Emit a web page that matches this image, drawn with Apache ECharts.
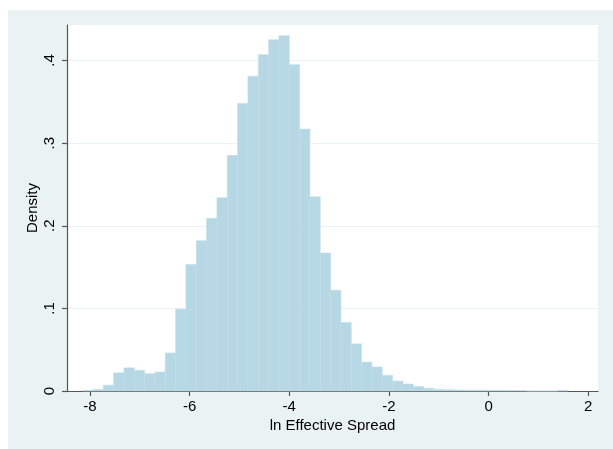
<!DOCTYPE html>
<html>
<head>
<meta charset="utf-8">
<script src="https://cdn.jsdelivr.net/npm/echarts@6/dist/echarts.min.js"></script>
<style>
  html, body { margin: 0; padding: 0; background: #fff; }
  #chart { position: absolute; left: 8px; top: 10px; width: 605px; height: 439px; }
</style>
</head>
<body>
<div id="chart"></div>
<script>
// histogram bins: 47 equal-width bins starting at the data minimum
const binStart = -8.146;
const binWidth = 0.2073;
const density = [
  0.001, 0.002, 0.007, 0.022, 0.028, 0.025, 0.021, 0.023, 0.046, 0.099,
  0.153, 0.182, 0.209, 0.234, 0.285, 0.348, 0.381, 0.407, 0.425, 0.430,
  0.395, 0.317, 0.235, 0.167, 0.122, 0.083, 0.057, 0.035, 0.029, 0.019,
  0.012, 0.0085, 0.0053, 0.0033, 0.002, 0.0015, 0.0012, 0.001, 0.001, 0.0008,
  0.0008, 0.0006, 0.0005, 0, 0, 0, 0.0008
];
const xTicks = [-8, -6, -4, -2, 0, 2];
const yTicks = [0, 0.1, 0.2, 0.3, 0.4];
const xTitle = 'ln Effective Spread';
const yTitle = 'Density';

const bins = density.map((d, i) => [binStart + i * binWidth, binStart + (i + 1) * binWidth, d]);

const chart = echarts.init(document.getElementById('chart'));

const font = 'Liberation Sans, Arial, Helvetica, sans-serif';

chart.setOption({
  backgroundColor: '#eaf2f3',
  animation: false,
  grid: {
    left: 59, right: 15, top: 15, bottom: 58,
    show: true, backgroundColor: '#ffffff', borderWidth: 0
  },
  xAxis: {
    type: 'value',
    min: -8.46, max: 2.195,
    name: xTitle,
    nameLocation: 'middle',
    nameGap: 27,
    nameMoveOverlap: false,
    nameTextStyle: { color: '#000', fontSize: 15, fontFamily: font },
    axisLine: { show: true, onZero: false, lineStyle: { color: '#555', width: 1.2 } },
    axisTick: { show: true, length: 5, customValues: xTicks, lineStyle: { color: '#555', width: 1.2 } },
    axisLabel: {
      customValues: xTicks, color: '#000', fontSize: 15, fontFamily: font, margin: 8,
      formatter: v => String(v)
    },
    splitLine: { show: false }
  },
  yAxis: {
    type: 'value',
    min: 0, max: 0.443,
    name: yTitle,
    nameLocation: 'middle',
    nameGap: 27,
    nameMoveOverlap: false,
    nameRotate: 90,
    nameTextStyle: { color: '#000', fontSize: 15, fontFamily: font },
    axisLine: { show: true, onZero: false, lineStyle: { color: '#555', width: 1.2 } },
    axisTick: { show: true, length: 5, customValues: yTicks, lineStyle: { color: '#555', width: 1.2 } },
    axisLabel: {
      customValues: yTicks, rotate: 90, color: '#000', fontSize: 15, fontFamily: font, margin: 10,
      formatter: v => v === 0 ? '0' : String(v.toFixed(1)).replace(/^0/, '')
    },
    splitLine: { show: true, lineStyle: { color: '#eaf2f3', width: 1.2 } }
  },
  series: [{
    type: 'custom',
    data: bins,
    encode: { x: [0, 1], y: 2 },
    renderItem: (params, api) => {
      const top = api.coord([api.value(0), api.value(2)]);
      const bottom = api.coord([api.value(1), 0]);
      return {
        type: 'rect',
        shape: { x: top[0], y: top[1], width: bottom[0] - top[0], height: bottom[1] - top[1] },
        style: { fill: '#b6d7e4', stroke: '#c3dee9', lineWidth: 0.6 }
      };
    }
  }]
});
</script>
</body>
</html>
